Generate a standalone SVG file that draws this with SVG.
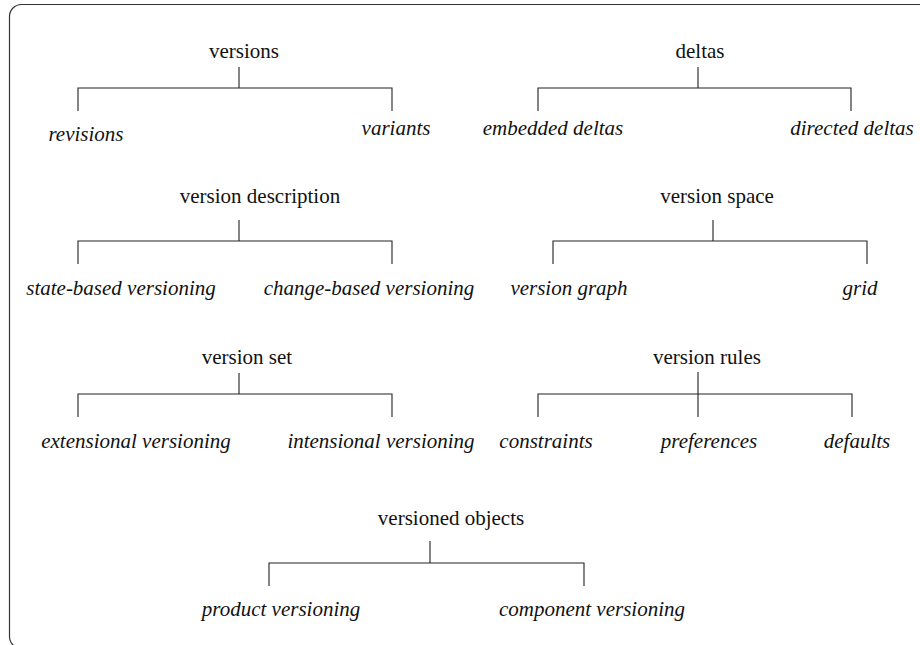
<svg xmlns="http://www.w3.org/2000/svg" width="920" height="645" viewBox="0 0 920 645">
<style>
.p{font-family:"Liberation Serif","Times New Roman",serif;font-size:21px;fill:#111;text-anchor:middle}
.c{font-family:"Liberation Serif","Times New Roman",serif;font-size:21px;font-style:italic;fill:#111;text-anchor:middle}
.ln{stroke:#222;stroke-width:1.1;fill:none}
</style>
<rect x="9.5" y="4.5" width="930" height="644" rx="12" fill="#fff" stroke="#333" stroke-width="1.2"/>
<g id="connectors" class="ln">
<path d="M239 67V88M78 111V88H392V111"/>
<path d="M698 67V88M538 111V88H851V111"/>
<path d="M239 220V241M78 264V241H392V264"/>
<path d="M713 220V241M553 264V241H867V264"/>
<path d="M239 373V394M78 417V394H392V417"/>
<path d="M698 372V417M538 417V394H852V417"/>
<path d="M430 541V563M269 586V563H584V586"/>
</g>
<g id="versions"><text class="p" x="244" y="58">versions</text></g>
<g id="revisions"><text class="c" x="86" y="141">revisions</text></g>
<g id="variants"><text class="c" x="396" y="135">variants</text></g>
<g id="deltas"><text class="p" x="700" y="58">deltas</text></g>
<g id="embedded-deltas"><text class="c" x="553" y="135">embedded deltas</text></g>
<g id="directed-deltas"><text class="c" x="852" y="135">directed deltas</text></g>
<g id="version-description"><text class="p" x="260" y="203">version description</text></g>
<g id="state-based"><text class="c" x="121" y="295">state-based versioning</text></g>
<g id="change-based"><text class="c" x="369" y="295">change-based versioning</text></g>
<g id="version-space"><text class="p" x="717" y="203">version space</text></g>
<g id="version-graph"><text class="c" x="569" y="295">version graph</text></g>
<g id="grid"><text class="c" x="860" y="295">grid</text></g>
<g id="version-set"><text class="p" x="247" y="364">version set</text></g>
<g id="extensional"><text class="c" x="136" y="448">extensional versioning</text></g>
<g id="intensional"><text class="c" x="381" y="448">intensional versioning</text></g>
<g id="version-rules"><text class="p" x="707" y="364">version rules</text></g>
<g id="constraints"><text class="c" x="546" y="448">constraints</text></g>
<g id="preferences"><text class="c" x="709" y="448">preferences</text></g>
<g id="defaults"><text class="c" x="857" y="448">defaults</text></g>
<g id="versioned-objects"><text class="p" x="451" y="525">versioned objects</text></g>
<g id="product-versioning"><text class="c" x="281" y="616">product versioning</text></g>
<g id="component-versioning"><text class="c" x="592" y="616">component versioning</text></g>
</svg>
